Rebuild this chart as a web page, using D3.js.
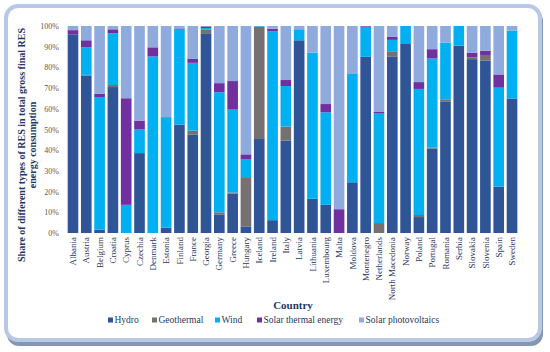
<!DOCTYPE html>
<html>
<head>
<meta charset="utf-8">
<script src="https://cdn.jsdelivr.net/npm/d3@7"></script>
<style>
    body { margin: 0; background: #fff; }
    svg { display: block; }
</style>
</head>
<body>
<div id="chart"></div>
<script>
const countries = ["Albania", "Austria", "Belgium", "Croatia", "Cyprus", "Czechia", "Denmark", "Estonia", "Finland", "France",
    "Georgia", "Germany", "Greece", "Hungary", "Iceland", "Ireland", "Italy", "Latvia", "Lithuania", "Luxembourg",
    "Malta", "Moldova", "Montenegro", "Netherlands", "North Macedonia", "Norway", "Poland", "Portugal", "Romania", "Serbia",
    "Slovakia", "Slovenia", "Spain", "Sweden"];

const hydro =        [96, 76, 1.6, 70.5, 0, 38.6, 0, 2.6, 52.4, 47.6, 96.5, 9, 19, 3.2, 45.4, 6.2, 44.7, 93.1, 16.5, 13.6, 0, 24.5, 85.1, 0, 85.1, 91.3, 7.7, 40.7, 63.6, 90.5, 84, 83.2, 22.4, 65];
const geothermal =   [0, 0.4, 0, 1, 0, 0, 0, 0, 0, 1.8, 1.9, 1, 0.6, 23.8, 54.3, 0, 6.7, 0, 0, 0, 0, 0, 0, 4.8, 2.4, 0, 1, 0.5, 1, 0, 0.9, 2.8, 0, 0];
const wind =         [0, 13.3, 64.1, 25, 13.6, 11.4, 85.3, 53.2, 46.3, 32.8, 0.6, 58, 40, 8.5, 0.3, 91.2, 19.6, 5.1, 70.7, 44.7, 0, 52.3, 14.6, 52.9, 5.8, 8.7, 60.9, 43.1, 27.4, 9.5, 0, 0, 47.8, 32.8];
const solarThermal = [2, 3.4, 1.6, 1.9, 51.5, 4.3, 4.4, 0.2, 0.2, 1.9, 0.8, 4.4, 13.8, 2.5, 0, 1.3, 2.9, 0.2, 0, 4, 11.5, 0, 0.3, 1, 1.6, 0, 3.3, 4.5, 0, 0, 2.1, 2, 6.4, 0];
const solarPV =      [2, 6.9, 32.7, 1.6, 34.9, 45.7, 10.3, 44, 1.1, 15.9, 0.2, 27.6, 26.6, 62, 0, 1.3, 26.1, 1.6, 12.8, 37.7, 88.5, 23.2, 0, 41.3, 5.1, 0, 27.1, 11.2, 8, 0, 13, 12, 23.4, 2.2];

const seriesNames = ["Hydro", "Geothermal", "Wind", "Solar thermal energy", "Solar photovoltaics"];
const seriesColors = ["#2F5597", "#767171", "#00B0F0", "#7030A0", "#8FAADC"];
const yTicks = [0, 10, 20, 30, 40, 50, 60, 70, 80, 90, 100];

const width = 550, height = 352;
const navy = "#1F3864";

const rows = countries.map((c, i) => ({
    country: c,
    "Hydro": hydro[i],
    "Geothermal": geothermal[i],
    "Wind": wind[i],
    "Solar thermal energy": solarThermal[i],
    "Solar photovoltaics": solarPV[i]
}));

const svg = d3.select("#chart").append("svg")
    .attr("width", width)
    .attr("height", height);

// card frame with shadow
svg.append("rect")
    .attr("x", 7).attr("y", 9)
    .attr("width", 536).attr("height", 337)
    .attr("rx", 12)
    .attr("fill", "#8496B0");

svg.append("rect")
    .attr("x", 6).attr("y", 6)
    .attr("width", 534).attr("height", 334)
    .attr("rx", 12)
    .attr("fill", "#fff")
    .attr("stroke", "#B8C9E8")
    .attr("stroke-width", 4);

const xScale = d3.scaleBand()
    .domain(countries)
    .range([65, 520])
    .padding(0.2);

const yScale = d3.scaleLinear()
    .domain([0, 100])
    .range([233, 26]);

const stack = d3.stack().keys(seriesNames);
const stacked = stack(rows);

svg.append("g")
    .selectAll("g")
    .data(stacked)
    .join("g")
    .attr("fill", (d, i) => seriesColors[i])
    .selectAll("rect")
    .data(d => d)
    .join("rect")
    .attr("x", d => xScale(d.data.country))
    .attr("y", d => yScale(d[1]))
    .attr("width", xScale.bandwidth())
    .attr("height", d => yScale(d[0]) - yScale(d[1]));

// y axis
const yAxis = d3.axisLeft(yScale)
    .tickValues(yTicks)
    .tickFormat(d => d + "%")
    .tickSize(0)
    .tickPadding(6);

const yAxisGroup = svg.append("g")
    .attr("transform", "translate(65, 0)")
    .call(yAxis);
yAxisGroup.select(".domain").remove();
yAxisGroup.selectAll("text")
    .attr("font-family", "Liberation Serif, Times New Roman, serif")
    .attr("font-size", 8)
    .attr("fill", "#595959");

// x axis
const xAxis = d3.axisBottom(xScale)
    .tickSize(0)
    .tickPadding(0);

const xAxisGroup = svg.append("g")
    .attr("transform", "translate(0, 233)")
    .call(xAxis);
xAxisGroup.select(".domain").remove();
xAxisGroup.selectAll("text")
    .attr("font-family", "Liberation Serif, Times New Roman, serif")
    .attr("font-size", 9)
    .attr("fill", navy)
    .attr("text-anchor", "end")
    .attr("dy", "0.35em")
    .attr("transform", "translate(0, 4) rotate(-90)")
    .attr("x", 0)
    .attr("y", 0);

// axis titles
const yTitle = svg.append("text")
    .attr("transform", "translate(21, 145) rotate(-90)")
    .attr("text-anchor", "middle")
    .attr("font-family", "Liberation Serif, Times New Roman, serif")
    .attr("font-weight", "bold")
    .attr("font-size", 10)
    .attr("fill", navy);
yTitle.append("tspan")
    .attr("x", 0).attr("dy", "0.35em")
    .text("Share of different types of RES in total gross final RES");
yTitle.append("tspan")
    .attr("x", 0).attr("dy", "1.15em")
    .text("energy consumption");

svg.append("text")
    .attr("x", 293)
    .attr("y", 309)
    .attr("text-anchor", "middle")
    .attr("font-family", "Liberation Serif, Times New Roman, serif")
    .attr("font-weight", "bold")
    .attr("font-size", 11)
    .attr("fill", navy)
    .text("Country");

// legend
const legendX = [108, 152, 215, 257, 359];
const legend = svg.append("g")
    .selectAll("g")
    .data(seriesNames)
    .join("g")
    .attr("transform", (d, i) => `translate(${legendX[i]}, 320)`);

legend.append("rect")
    .attr("x", 0).attr("y", -2.5)
    .attr("width", 5).attr("height", 5)
    .attr("fill", (d, i) => seriesColors[i]);

legend.append("text")
    .attr("x", 6.5)
    .attr("y", 0)
    .attr("dy", "0.35em")
    .attr("font-family", "Liberation Serif, Times New Roman, serif")
    .attr("font-size", 9.5)
    .attr("fill", navy)
    .text(d => d);
</script>
</body>
</html>
